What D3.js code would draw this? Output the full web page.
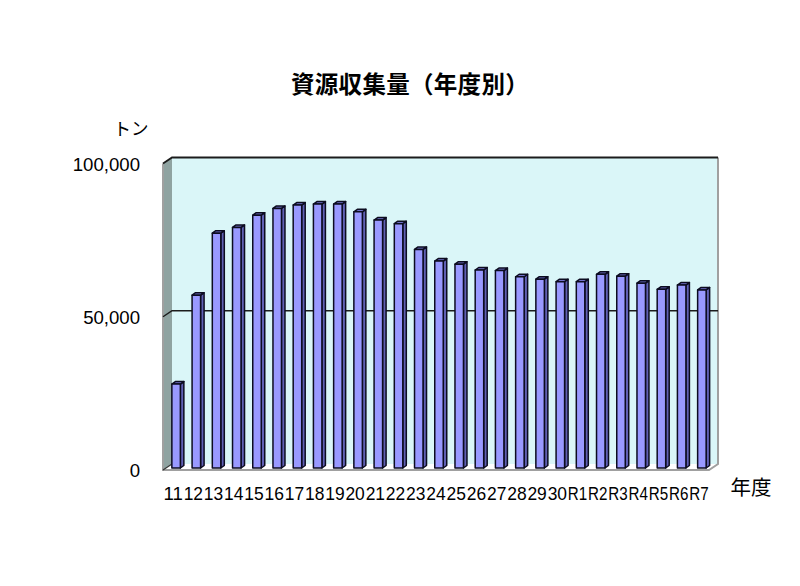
<!DOCTYPE html>
<html><head><meta charset="utf-8">
<script src="https://cdn.jsdelivr.net/npm/d3@7"></script>
<style>html,body{margin:0;padding:0;background:#fff}svg{display:block}</style>
</head><body><svg id="c" width="800" height="586"></svg>
<script>
const categories = ["11","12","13","14","15","16","17","18","19","20","21","22","23","24","25","26","27","28","29","30","R1","R2","R3","R4","R5","R6","R7"];
const values = [27400,56400,76600,78500,82500,84700,85800,86100,86100,83600,80900,79700,71300,67500,66500,64600,64400,62400,61600,60800,60800,63200,62600,60300,58300,59700,58100];
const yTicks = [0,50000,100000];
const titleText = "資源収集量（年度別）";
const yUnit = "トン";
const xUnit = "年度";

const svg = d3.select("#c");
const latin = "'Liberation Sans','Noto Sans CJK JP',sans-serif";
const cjk = "'Noto Sans CJK JP',sans-serif";

const floorDX = 9, floorDY = -6;
const barDX = 3.5, barDY = -2.5, barOffX = 3, barOffY = -2;
const x = d3.scaleBand().domain(categories).range([163, 709]);
const y = d3.scaleLinear().domain([0, 100000]).range([470, 163.5]);
const barWidth = 8.5;
const poly = pts => pts.map(p => p.join(",")).join(" ");

const x0 = x.range()[0], x1 = x.range()[1];
const yb = y(0), yt = y(100000);

// back wall
svg.append("polygon").attr("points", poly([[x0+floorDX,yt+floorDY],[x1+floorDX,yt+floorDY],[x1+floorDX,yb+floorDY],[x0+floorDX,yb+floorDY]])).attr("fill","#daf6f8");
// left wall
svg.append("polygon").attr("points", poly([[x0,yt],[x0+floorDX,yt+floorDY],[x0+floorDX,yb+floorDY],[x0,yb]])).attr("fill","#8fa3a1");
// floor
svg.append("polygon").attr("points", poly([[x0,yb],[x1,yb],[x1+floorDX,yb+floorDY],[x0+floorDX,yb+floorDY]])).attr("fill","#ffffff");
// edges
svg.append("path").attr("d", `M${x1+floorDX},${yt+floorDY}V${yb+floorDY}L${x1},${yb}H${x0}V${yt}`).attr("fill","none").attr("stroke","#a0a0a0").attr("stroke-width",2);
// gridlines
yTicks.filter(t => t > 0).forEach(t => {
  svg.append("path").attr("d", `M${x0},${y(t)}L${x0+floorDX},${y(t)+floorDY}H${x1+floorDX}`)
    .attr("fill","none").attr("stroke","#1c1c1c").attr("stroke-width",t === 100000 ? 1.8 : 1.5);
});
svg.append("path").attr("d", `M${x0},${yb}L${x0+floorDX},${yb+floorDY}`).attr("stroke","#333").attr("stroke-width",1.2);

// bars
const g = svg.append("g").attr("stroke","#0c0c20").attr("stroke-width",1.5).attr("stroke-linejoin","round");
categories.forEach((c,i) => {
  const l = x(c) + x.bandwidth()/2 + barOffX - barWidth/2, r = l + barWidth;
  const t = y(values[i]) + barOffY, b = y(0) + barOffY;
  g.append("polygon").attr("points", poly([[r,b],[r+barDX,b+barDY],[r+barDX,t+barDY],[r,t]])).attr("fill","#6060b4");
  g.append("polygon").attr("points", poly([[l,t],[l+barDX,t+barDY],[r+barDX,t+barDY],[r,t]])).attr("fill","#7070c8");
  g.append("rect").attr("x",l).attr("y",t).attr("width",barWidth).attr("height",b-t).attr("fill","#9999ff");
});

// axes
const fmt = d3.format(",");
const yAxis = d3.axisLeft(y).tickValues(yTicks).tickFormat(fmt).tickSize(0).tickPadding(23);
const ya = svg.append("g").attr("transform",`translate(${x0},1)`).call(yAxis);
ya.select(".domain").remove();
ya.selectAll("text").attr("font-family",latin).attr("font-size",18.6).attr("fill","#000");

const xAxis = d3.axisBottom(x).tickSize(0).tickPadding(17);
const xa = svg.append("g").attr("transform",`translate(0,${yb})`).call(xAxis);
xa.select(".domain").remove();
xa.selectAll("text").attr("font-family",latin).attr("font-size",18.6).attr("fill","#000")
  .attr("textLength",19.4).attr("lengthAdjust","spacingAndGlyphs");

svg.append("text").attr("x",410).attr("y",93).attr("text-anchor","middle").attr("font-family",cjk).attr("font-weight",700).attr("font-size",23.5).attr("letter-spacing",0.3).attr("fill","#000").text(titleText);
svg.append("text").attr("x",131).attr("y",135).attr("text-anchor","middle").attr("font-family",cjk).attr("font-size",17.5).attr("fill","#000").text(yUnit);
svg.append("text").attr("x",751).attr("y",495).attr("text-anchor","middle").attr("font-family",cjk).attr("font-size",20.5).attr("fill","#000").text(xUnit);
</script></body></html>
